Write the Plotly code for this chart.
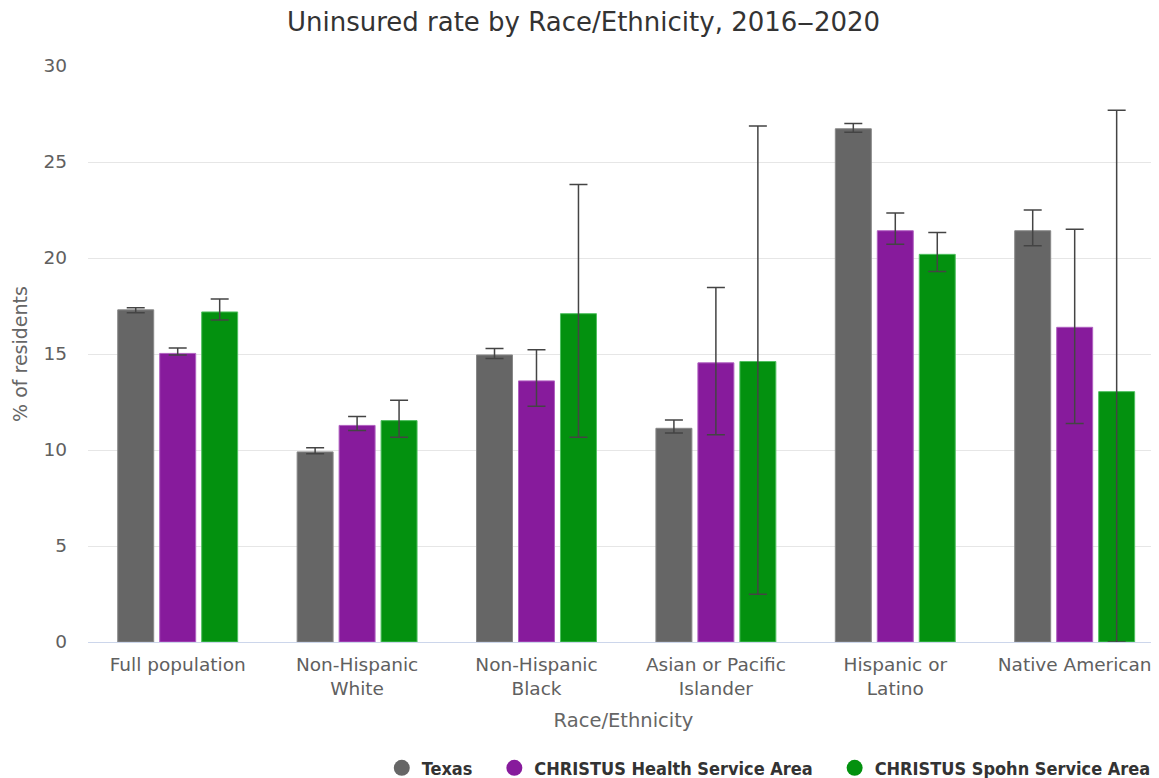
import plotly.graph_objects as go

categories = ["Full population", "Non-Hispanic<br>White", "Non-Hispanic<br>Black",
              "Asian or Pacific<br>Islander", "Hispanic or<br>Latino", "Native American"]

texas = [17.3, 9.9, 14.95, 11.13, 26.73, 21.42]
texas_hi = [17.41, 10.12, 15.29, 11.56, 27.01, 22.50]
texas_lo = [17.15, 9.80, 14.77, 10.88, 26.55, 20.64]

health = [15.03, 11.28, 13.60, 14.54, 21.42, 16.39]
health_hi = [15.31, 11.74, 15.22, 18.47, 22.34, 21.50]
health_lo = [14.95, 11.02, 12.28, 10.79, 20.72, 11.38]

spohn = [17.19, 11.53, 17.10, 14.61, 20.19, 13.04]
spohn_hi = [17.86, 12.59, 23.83, 26.87, 21.33, 27.70]
spohn_lo = [16.77, 10.66, 10.66, 2.49, 19.30, 0.0]

series = [
    ("Texas", texas, texas_hi, texas_lo, "#666666", "#888888"),
    ("CHRISTUS Health Service Area", health, health_hi, health_lo, "#871B9C", "#B060C0"),
    ("CHRISTUS Spohn Service Area", spohn, spohn_hi, spohn_lo, "#03910F", "#50C060"),
]

FONT = "DejaVu Sans, sans-serif"
PAD = "\u00a0\u00a0\u00a0"

fig = go.Figure()
xs = list(range(len(categories)))
for name, vals, hi, lo, col, edge in series:
    fig.add_trace(go.Bar(
        x=xs, y=vals, name=name, showlegend=False,
        marker=dict(color=col, line=dict(color=edge, width=1)),
        error_y=dict(type="data", symmetric=False,
                     array=[h - v for h, v in zip(hi, vals)],
                     arrayminus=[v - l for v, l in zip(vals, lo)],
                     color="#444444", thickness=1.5, width=9),
    ))
for i, (name, vals, hi, lo, col, edge) in enumerate(series):
    label = name + (PAD if i < len(series) - 1 else "")
    fig.add_trace(go.Scatter(
        x=[None], y=[None], mode="markers", name=label,
        marker=dict(color=col, size=17, symbol="circle"),
    ))

fig.update_layout(
    width=1151, height=770,
    margin=dict(l=80, r=0, t=58, b=136, autoexpand=False),
    paper_bgcolor="white", plot_bgcolor="white",
    barmode="group", bargap=0.298, bargroupgap=0.143,
    title=dict(text="Uninsured rate by Race/Ethnicity, 2016‒2020",
               x=0.5, xanchor="center", y=0.982, yanchor="middle",
               font=dict(family=FONT, size=26, color="#333333")),
    font=dict(family=FONT, color="#666666"),
    xaxis=dict(
        tickmode="array", tickvals=xs, ticktext=categories,
        range=[-0.5, 5.47], showgrid=False,
        showline=True, linecolor="#ccd6eb", linewidth=1,
        ticks="", tickfont=dict(size=18.5, color="#606060"),
        ticklabelstandoff=6,
        title=dict(text="Race/Ethnicity", font=dict(size=19.5, color="#666666"), standoff=15),
    ),
    yaxis=dict(
        range=[0, 30], tickvals=[0, 5, 10, 15, 20, 25, 30],
        showgrid=True, gridcolor="#e6e6e6", gridwidth=1,
        zeroline=False, tickfont=dict(size=18.5, color="#606060"),
        title=dict(text="% of residents", font=dict(size=19, color="#666666"), standoff=10),
        ticklabelstandoff=20,
    ),
    legend=dict(orientation="h", x=0.997, xanchor="right", y=-0.219, yanchor="middle",
                font=dict(family="DejaVu Sans Condensed, DejaVu Sans, sans-serif",
                          size=18, color="#333333", weight="bold"),
                itemwidth=30, tracegroupgap=0),
)

fig.write_html("out.html")
